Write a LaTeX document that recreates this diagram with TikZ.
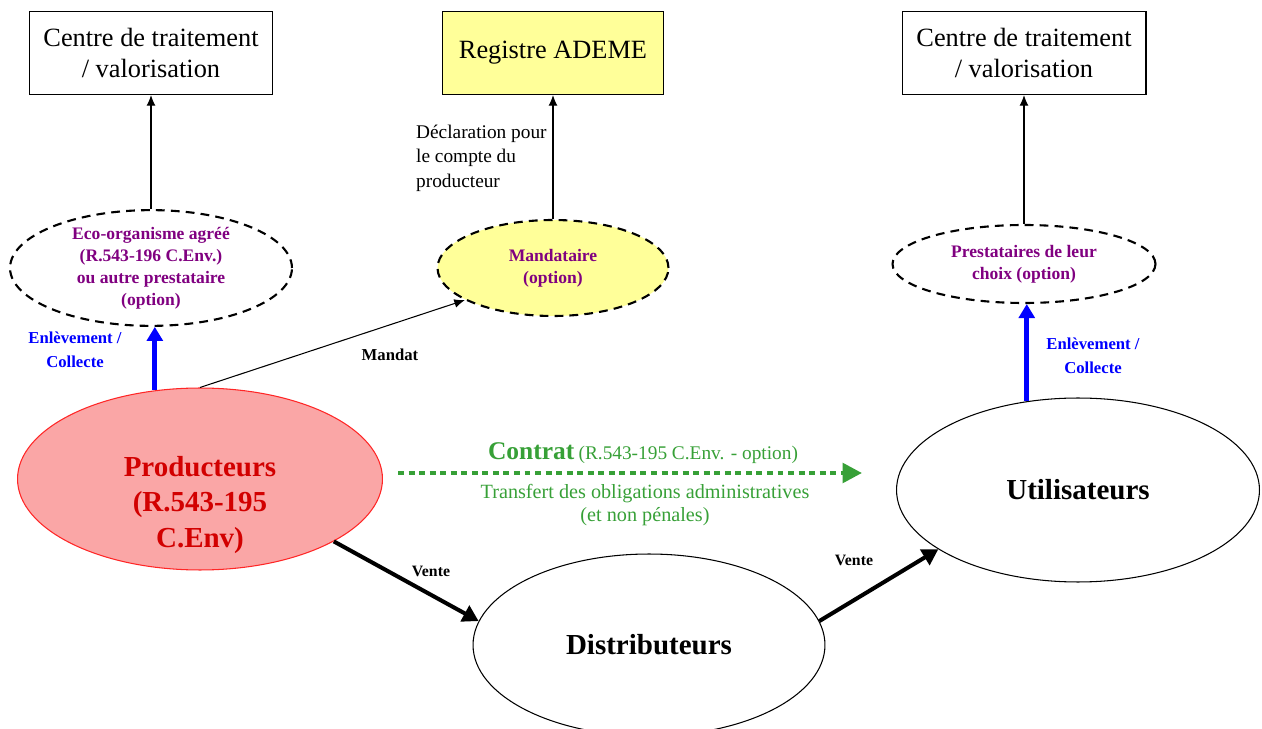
\documentclass[tikz,border=0pt]{standalone}
\usepackage{fontspec}
\setmainfont{Liberation Serif}
\usepackage{tikz}
\usepackage{color}
\usetikzlibrary{arrows.meta,shapes.geometric}
\definecolor{purp}{RGB}{128,0,128}
\definecolor{rose}{RGB}{250,166,166}
\definecolor{rouge}{RGB}{210,0,0}
\definecolor{jaune}{RGB}{255,255,153}
\definecolor{vert}{RGB}{55,160,55}

\begin{document}
\begin{tikzpicture}[x=0.02cm,y=-0.02cm]
  \tikzstyle{cadre} = [draw, line width=0.6pt, minimum height=1.66cm, align=center, font=\fontsize{15}{17.6}\selectfont]
  \tikzstyle{opt} = [ellipse, draw, line width=1.2pt, dash pattern=on 5pt off 3.5pt, inner sep=0pt, align=center, text=purp, font=\fontsize{10}{12.5}\selectfont\bfseries]
  \tikzstyle{acteur} = [ellipse, draw, line width=0.6pt, inner sep=0pt, align=center, font=\fontsize{16.5}{20}\selectfont\bfseries]
  \tikzstyle{fleche} = [-{Latex[length=6pt,width=5pt]}, line width=0.6pt]
  \tikzstyle{collecte} = [-{Triangle[length=8pt,width=9pt]}, line width=3pt, blue]
  \tikzstyle{vente} = [-{Triangle[length=9pt,width=10pt]}, line width=2.3pt]
  \tikzstyle{etiq} = [font=\fontsize{9.5}{13.6}\selectfont\bfseries, align=center]
  \useasboundingbox (0,0) rectangle (1262,729);

  \node[cadre, minimum width=4.86cm] (ctv1) at (151,53) {Centre de traitement\\/ valorisation};
  \node[cadre, minimum width=4.42cm, fill=jaune] (ademe) at (553,53) {Registre ADEME};
  \node[cadre, minimum width=4.88cm] (ctv2) at (1024,53) {Centre de traitement\\/ valorisation};

  \node[opt, minimum width=5.64cm, minimum height=1.92cm] (eco) at (151,268)
    {Eco-organisme agréé\\(R.543-196 C.Env.)\\ou autre prestataire\\(option)};
  \node[opt, minimum width=4.62cm, minimum height=1.92cm, fill=jaune] (mand) at (553,268)
    {Mandataire\\(option)};
  \node[opt, minimum width=5.26cm, minimum height=1.56cm] (prest) at (1024,264)
    {Prestataires de leur\\choix (option)};

  \node[acteur, minimum width=7.3cm, minimum height=3.64cm, fill=rose, draw=red!85] (prod) at (200,479) {};
  \node[acteur, draw=none, text=rouge] (prodtxt) at (200,505) {Producteurs\\(R.543-195\\C.Env)};
  \node[acteur, minimum width=7.26cm, minimum height=3.68cm] (util) at (1078,490) {Utilisateurs};
  \node[acteur, minimum width=7.04cm, minimum height=3.64cm] (dist) at (649,645) {Distributeurs};

  \draw[fleche] (eco.north) -- (ctv1.south);
  \draw[fleche] (mand.north) -- (ademe.south);
  \draw[fleche] (prest.north) -- (ctv2.south);
  \node[anchor=west, align=left, font=\fontsize{11}{14}\selectfont] (decl) at (410,158)
    {Déclaration pour\\le compte du\\producteur};

  \draw[collecte] (prod.117) -- (prod.117 |- eco.south);
  \draw[collecte] (util.120) -- (util.120 |- prest.south);
  \node[etiq, text=blue] (enl1) at (75,350) {Enlèvement /\\Collecte};
  \node[etiq, text=blue] (enl2) at (1093,356) {Enlèvement /\\Collecte};

  \draw[fleche] (prod.north) -- (mand.200);
  \node[etiq] (mandat) at (390,355) {Mandat};

  \coordinate (c1) at (398,473);
  \coordinate (c2) at (862,473);
  \draw[vert, line width=2.4pt, dash pattern=on 3.4pt off 2.6pt, -{Triangle[length=11pt,width=11pt]}] (c1) -- (c2);
  \node[text=vert] (contrat) at (643,453)
    {\fontsize{14.5}{17}\selectfont\bfseries Contrat\,\fontsize{11}{13}\selectfont\mdseries(R.543-195 C.Env. - option)};
  \node[text=vert, align=center, font=\fontsize{11.5}{13}\selectfont] (transfert) at (645,505)
    {Transfert des obligations administratives\\(et non pénales)};

  \draw[vente] (prod.-25) -- (dist.172);
  \draw[vente] (dist.8) -- (util.203);
  \node[etiq, font=\fontsize{9}{11}\selectfont\bfseries] (vente1) at (431,571) {Vente};
  \node[etiq, font=\fontsize{9}{11}\selectfont\bfseries] (vente2) at (854,560) {Vente};
\end{tikzpicture}
\end{document}
